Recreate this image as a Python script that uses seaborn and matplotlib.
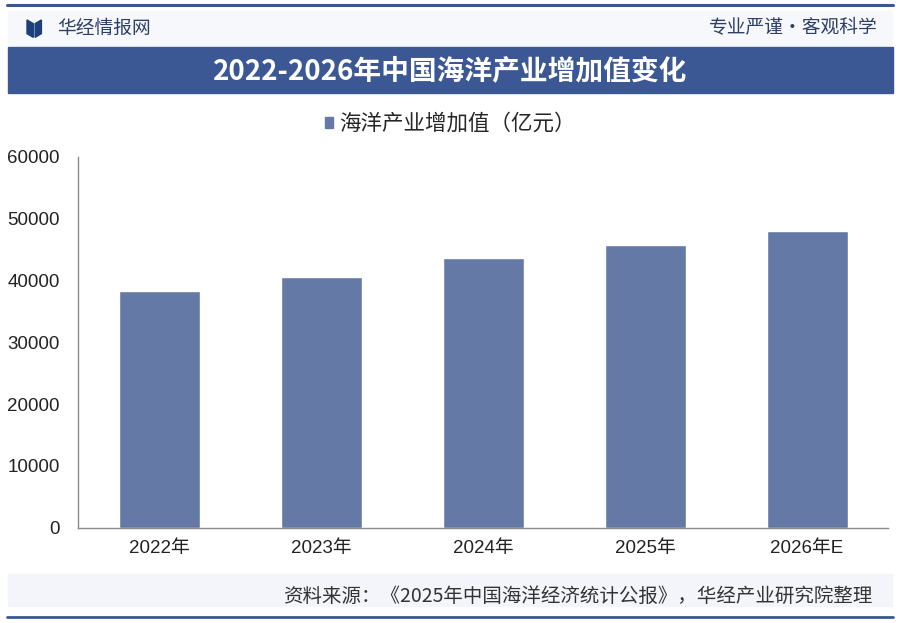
import matplotlib
matplotlib.use("Agg")
import matplotlib.pyplot as plt
import matplotlib.patches as mpatches
from matplotlib.lines import Line2D
import seaborn as sns
import pandas as pd

# chart data
years = ["2022年", "2023年", "2024年", "2025年", "2026年E"]
values = [38300, 40500, 43600, 45700, 48000]
y_ticks = [0, 10000, 20000, 30000, 40000, 50000, 60000]
series_name = "海洋产业增加值（亿元）"
title_text = "2022-2026年中国海洋产业增加值变化"
source_text = "资料来源：《2025年中国海洋经济统计公报》，华经产业研究院整理"

BAR_COLOR = "#6479a5"
NAVY = "#3b5894"
FONT = ["Liberation Sans", "Noto Sans CJK SC", "DejaVu Sans"]
CJK = ["Noto Sans CJK SC", "DejaVu Sans"]

sns.set_style("white")
plt.rcParams["font.family"] = FONT

df = pd.DataFrame({"year": years, "value": values})

fig = plt.figure(figsize=(9, 6.23), dpi=100)
fig.patch.set_facecolor("white")

# ----- header decorations -----
fig.add_artist(Line2D([0.008, 0.992], [0.992, 0.992], color=NAVY, lw=2.2,
                      solid_capstyle="round", transform=fig.transFigure))
fig.add_artist(mpatches.Rectangle((0.009, 0.928), 0.982, 0.055, color="#f6f8fc",
                                  transform=fig.transFigure, zorder=0))
# logo
fig.add_artist(mpatches.Polygon([[0.030, 0.968], [0.037, 0.962], [0.037, 0.940], [0.030, 0.946]],
                                closed=True, color="#1f3f7a", transform=fig.transFigure))
fig.add_artist(mpatches.Polygon([[0.039, 0.962], [0.046, 0.968], [0.046, 0.946], [0.039, 0.940]],
                                closed=True, color="#1f3f7a", transform=fig.transFigure))
fig.text(0.064, 0.955, "华经情报网", family=CJK, fontsize=13.5, color="#2e3f66", va="center")
fig.text(0.975, 0.955, "专业严谨•客观科学", family=CJK, fontsize=13.5, color="#2e3f66",
         va="center", ha="right")

# title banner
fig.add_artist(mpatches.Rectangle((0.009, 0.851), 0.983, 0.074, color=NAVY,
                                  transform=fig.transFigure))
fig.text(0.5, 0.886, title_text, family=CJK, fontsize=20, fontweight="bold",
         color="white", ha="center", va="center")

# ----- bar chart -----
ax = fig.add_axes([0.0867, 0.153, 0.90, 0.5955])
sns.barplot(data=df, x="year", y="value", color=BAR_COLOR, width=0.5,
            saturation=1, ax=ax, zorder=2)
ax.set_facecolor("none")
ax.set_ylim(0, 60000)
ax.set_xlim(-0.5, len(years) - 0.5)
ax.set_yticks(y_ticks)
ax.set_yticklabels([str(v) for v in y_ticks])
ax.set_xlabel("")
ax.set_ylabel("")

for side in ["top", "right"]:
    ax.spines[side].set_visible(False)
for side in ["left", "bottom"]:
    ax.spines[side].set_color("#8a8a8a")
    ax.spines[side].set_linewidth(1.0)

ax.tick_params(axis="y", length=4, color="#8a8a8a", labelsize=13.5, labelcolor="#222222", pad=9)
ax.tick_params(axis="x", which="major", length=0, labelsize=13.5, labelcolor="#222222", pad=9)
ax.set_xticks([i - 0.5 for i in range(len(years) + 1)], minor=True)
ax.tick_params(axis="x", which="minor", length=5, color="#8a8a8a", direction="out")

# legend above the plot
handle = mpatches.Patch(color=BAR_COLOR, label=series_name)
fig.legend(handles=[handle], loc="center", bbox_to_anchor=(0.5, 0.801), frameon=False,
           prop={"family": CJK, "size": 15.5}, handlelength=0.4, handleheight=0.4,
           handletextpad=0.25)

# ----- footer -----
fig.add_artist(mpatches.Rectangle((0.009, 0.027), 0.982, 0.052, color="#f3f5fa",
                                  transform=fig.transFigure, zorder=0))
fig.text(0.969, 0.042, source_text, family=CJK, fontsize=14, color="#333333",
         ha="right", va="center")
fig.add_artist(Line2D([0.008, 0.992], [0.009, 0.009], color=NAVY, lw=2.0,
                      solid_capstyle="round", transform=fig.transFigure))

plt.savefig("out.png", dpi=100)
